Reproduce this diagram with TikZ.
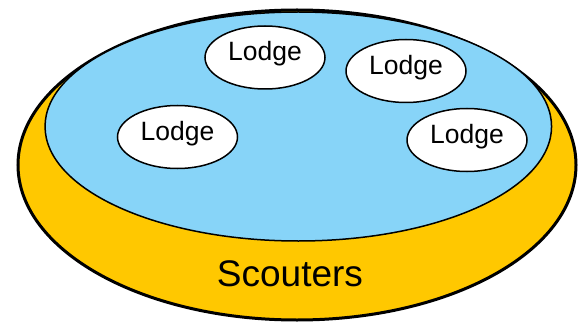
\documentclass[tikz,border=0pt]{standalone}
\usepackage{fontspec}
\setmainfont{Liberation Sans}
\usetikzlibrary{shapes.geometric}
\definecolor{scoutyellow}{RGB}{255,200,0}
\definecolor{lodgeblue}{RGB}{135,212,248}
\tikzset{
  outerdisc/.style={ellipse, draw=black, fill=scoutyellow, line width=3pt, minimum width=558pt, minimum height=310pt, inner sep=0pt},
  innerdisc/.style={ellipse, draw=black, fill=lodgeblue, line width=1.5pt, minimum width=506.5pt, minimum height=229pt, inner sep=0pt},
  lodgebox/.style={ellipse, draw=black, fill=white, line width=1.5pt, minimum width=120pt, minimum height=63pt, inner sep=0pt},
  lodgetext/.style={font=\fontsize{26.5}{31}\selectfont, inner sep=0pt},
  scouttext/.style={font=\fontsize{37}{44}\selectfont, inner sep=0pt}
}
\begin{document}
\begin{tikzpicture}[x=1pt,y=-1pt]
\useasboundingbox (0,0) rectangle (578,326);
\node[outerdisc] (outer) at (297,165) {};
\node[innerdisc] (inner) at (298.3,126.5) {};
\node[lodgebox] (l1) at (265,57.5) {};
\node[lodgebox] (l2) at (406,71) {};
\node[lodgebox] (l3) at (177.5,137) {};
\node[lodgebox] (l4) at (467,140) {};
\node[lodgetext] (t1) at ([yshift=3.5pt]l1.center) {Lodge};
\node[lodgetext] (t2) at ([yshift=3.5pt]l2.center) {Lodge};
\node[lodgetext] (t3) at ([yshift=3.5pt]l3.center) {Lodge};
\node[lodgetext] (t4) at ([yshift=3.5pt]l4.center) {Lodge};
\node[scouttext] (scouters) at (290,274) {Scouters};
\end{tikzpicture}
\end{document}
